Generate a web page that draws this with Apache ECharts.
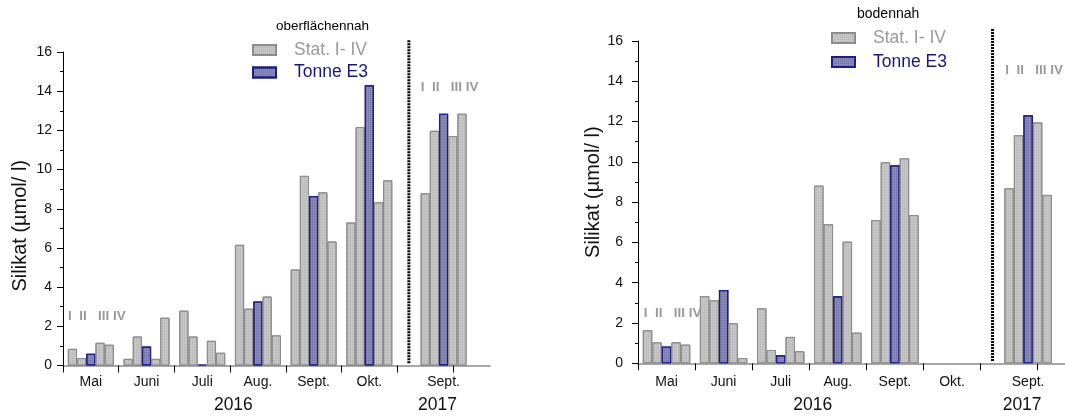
<!DOCTYPE html>
<html>
<head>
<meta charset="utf-8">
<script src="https://cdn.jsdelivr.net/npm/echarts@6/dist/echarts.min.js"></script>
<style>
  html, body { margin: 0; padding: 0; background: #fff; }
  #chart { width: 1065px; height: 417px; }
</style>
</head>
<body>
<div id="chart"></div>
<script>
// Sampling months (six in 2016, one in 2017)
const months = ['Mai', 'Juni', 'Juli', 'Aug.', 'Sept.', 'Okt.', 'Sept.'];
const years = ['2016', '2017'];
const stationLabel = 'I  II   III IV';
const yTickStep = 2;
const yMax = 16;

// Silikat (µmol/l) near the surface: stations I, II, barrel E3, III, IV
const surfI   = [0.85, 0.34, 2.80, 6.16, 4.90, 7.30, 8.79];
const surfII  = [0.38, 1.48, 1.48, 2.90, 9.68, 12.17, 11.98];
const surfE3  = [0.60, 0.97, 0.05, 3.26, 8.65, 14.30, 12.85];
const surfIII = [1.16, 0.34, 1.26, 3.52, 8.84, 8.33, 11.71];
const surfIV  = [1.06, 2.44, 0.65, 1.54, 6.33, 9.45, 12.85];

// Silikat (µmol/l) near the bottom (no samples in October)
const botI   = [1.64, 3.33, 2.73, 8.82, 7.11, null, 8.69];
const botII  = [1.04, 3.13, 0.66, 6.90, 9.98, null, 11.32];
const botE3  = [0.84, 3.64, 0.40, 3.33, 9.83, null, 12.31];
const botIII = [1.04, 1.99, 1.31, 6.04, 10.18, null, 11.96];
const botIV  = [0.93, 0.26, 0.60, 1.52, 7.36, null, 8.36];

// The time axis is split into thirds of a month: 2016 months take three
// slots each, the 2017 group sits after a gap and spans five slots.
const SLOT_COUNT = 23;
const slotOf = m => (m < 6 ? 3 * m + 1 : 20);
const tickSlots = [0, 3, 6, 9, 12, 15, 18, 21];
const yearSlots = [9, 20];
const separatorPos = 18.63;

const monthLabels = Array(SLOT_COUNT).fill('');
months.forEach((m, i) => { monthLabels[slotOf(i)] = m; });
const yearLabels = Array(SLOT_COUNT).fill('');
years.forEach((y, i) => { yearLabels[yearSlots[i]] = y; });

function toSlots(values) {
  const out = Array(SLOT_COUNT).fill(null);
  values.forEach((v, i) => { out[slotOf(i)] = v; });
  return out;
}

const FONT = "'Liberation Sans', Arial, sans-serif";
const STAT = 'Stat. I- IV';
const TONNE = 'Tonne E3';

const greyStyle = {
  color: '#c6c6c6', borderColor: '#8c8c8c', borderWidth: 1,
  decal: { symbol: 'rect', symbolSize: 1, dashArrayX: [1, 1], dashArrayY: [1, 1], color: 'rgba(150,150,150,0.35)' }
};
const blueStyle = {
  color: '#8a8ab8', borderColor: '#1c1c8a', borderWidth: 1.2,
  decal: { symbol: 'rect', symbolSize: 1, dashArrayX: [1, 1], dashArrayY: [1, 1], color: 'rgba(60,60,110,0.35)' }
};

function panelSeries(grid, sets, barWidth, labelPoints) {
  const names = [STAT, STAT, TONNE, STAT, STAT];
  return sets.map((vals, k) => {
    const s = {
      name: names[k], type: 'bar',
      xAxisIndex: grid * 3, yAxisIndex: grid,
      data: toSlots(vals),
      barWidth: barWidth, barGap: '0%',
      itemStyle: k === 2 ? blueStyle : greyStyle,
      emphasis: { disabled: true },
      animation: false
    };
    if (k === 2) {
      s.markPoint = {
        symbol: 'rect', symbolSize: 1, itemStyle: { color: 'rgba(0,0,0,0)' },
        label: {
          show: true, position: 'inside', offset: [6, 0],
          formatter: stationLabel, color: '#9a9a9a', fontFamily: FONT,
          fontSize: 13.5, fontWeight: 'bold'
        },
        data: labelPoints.map(p => ({ coord: p }))
      };
    }
    return s;
  });
}

function xAxes(grid, labelMargin, yearMargin) {
  return [
    {
      gridIndex: grid, type: 'category', data: monthLabels, boundaryGap: true,
      axisLine: { lineStyle: { color: '#8a8a8a', width: 1.5 } },
      axisTick: { show: false },
      axisLabel: { interval: 0, color: '#111', fontFamily: FONT, fontSize: 14, margin: labelMargin }
    },
    {
      gridIndex: grid, type: 'category', data: yearLabels, position: 'bottom', offset: 24,
      axisLine: { show: false }, axisTick: { show: false },
      axisLabel: { interval: 0, color: '#111', fontFamily: FONT, fontSize: 17.5, margin: yearMargin, padding: [0, 12, 0, 0] }
    },
    {
      gridIndex: grid, type: 'value', min: 0, max: SLOT_COUNT, position: 'bottom',
      axisLine: { show: false }, splitLine: { show: false },
      axisTick: { show: true, customValues: tickSlots, length: 7, lineStyle: { color: '#000' } },
      axisLabel: { show: false }
    }
  ];
}

function yAxis(grid, margin, nameGap, namePad) {
  return {
    gridIndex: grid, type: 'value', min: 0, max: yMax, interval: yTickStep,
    axisLine: { show: true, lineStyle: { color: '#000' } },
    axisTick: { show: true, length: 6, lineStyle: { color: '#000' } },
    minorTick: { show: true, splitNumber: 2, length: 3, lineStyle: { color: '#000' } },
    splitLine: { show: false },
    axisLabel: { color: '#111', fontFamily: FONT, fontSize: 14, margin: margin },
    name: 'Silikat (µmol/ l)', nameLocation: 'middle', nameGap: nameGap,
    nameTextStyle: { color: '#111', fontFamily: FONT, fontSize: 20, padding: namePad }
  };
}

function legend(left, top, gap) {
  return {
    left: left, top: top, orient: 'vertical', itemWidth: 23, itemHeight: 10, itemGap: gap,
    padding: 0, selectedMode: false, icon: 'rect',
    textStyle: { fontFamily: FONT, fontSize: 17.5, lineHeight: 20, padding: [0, 0, 0, 13] },
    data: [
      { name: STAT, textStyle: { color: '#9a9a9a' } },
      { name: TONNE, textStyle: { color: '#16168a' } }
    ]
  };
}

const chart = echarts.init(document.getElementById('chart'), null, { renderer: 'canvas' });

chart.setOption({
  animation: false,
  backgroundColor: '#fff',
  title: [
    { text: 'oberflächennah', left: 276, top: 19.5, padding: 0,
      textStyle: { fontFamily: FONT, fontSize: 13.5, fontWeight: 'normal', color: '#000' } },
    { text: 'bodennah', left: 857, top: 7.5, padding: 0,
      textStyle: { fontFamily: FONT, fontSize: 14, fontWeight: 'normal', color: '#000' } }
  ],
  legend: [legend(252, 40, 2.5), legend(831, 28, 4)],
  grid: [
    { left: 63, top: 52, width: 427, height: 313.5, outerBoundsMode: 'none' },
    { left: 638, top: 41, width: 437.7, height: 322.3, outerBoundsMode: 'none' }
  ],
  xAxis: [...xAxes(0, 10, 7), ...xAxes(1, 12, 9)],
  yAxis: [yAxis(0, 11, 33, [0, 34, 0, 0]), yAxis(1, 15, 19, [0, 0, 0, 20])],
  series: [
    ...panelSeries(0, [surfI, surfII, surfE3, surfIII, surfIV], 9.2, [[1, 2.5], [20, 14.2]]),
    ...panelSeries(1, [botI, botII, botE3, botIII, botIV], 9.5, [[1, 2.5], [20, 14.56]])
  ]
});

// Dotted separator between 2016 and 2017 in both panels
const separators = [0, 1].map(g => {
  const x = chart.convertToPixel({ xAxisIndex: g * 3 + 2 }, separatorPos);
  const yTop = chart.convertToPixel({ yAxisIndex: g }, 16.6);
  const yBot = chart.convertToPixel({ yAxisIndex: g }, 0.12);
  return {
    type: 'line', silent: true,
    shape: { x1: x, y1: yTop, x2: x, y2: yBot },
    style: { stroke: '#000', lineWidth: 3, lineDash: [2, 1] }
  };
});
chart.setOption({ graphic: separators });
</script>
</body>
</html>
